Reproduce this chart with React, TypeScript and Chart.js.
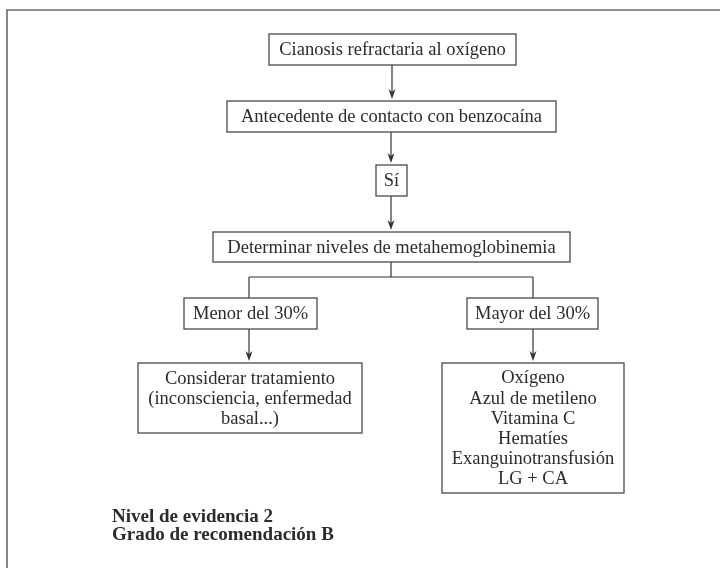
import React, { useEffect, useRef } from "react";
import { Chart, registerables } from "chart.js";

Chart.register(...registerables);

// ---- content ----
const nodeText: string[][] = [
  ["Cianosis refractaria al oxígeno"],
  ["Antecedente de contacto con benzocaína"],
  ["Sí"],
  ["Determinar niveles de metahemoglobinemia"],
  ["Menor del 30%"],
  ["Mayor del 30%"],
  ["Considerar tratamiento", "(inconsciencia, enfermedad", "basal...)"],
  ["Oxígeno", "Azul de metileno", "Vitamina C", "Hematíes", "Exanguinotransfusión", "LG + CA"],
];
const noteText: string[] = ["Nivel de evidencia 2", "Grado de recomendación B"];

// ---- layout (data units of the hidden scales) ----
const nodeLeft: number[] = [269, 227, 376, 213, 184, 467, 138, 442];
const nodeRight: number[] = [516, 556, 407, 570, 317, 598, 362, 624];
const nodeTop: number[] = [34, 101, 165, 232, 298, 298, 363, 363];
const nodeBottom: number[] = [65, 132, 196, 262, 329, 329, 433, 493];

// connectors: [x1, y1, x2, y2, arrow(1/0)]
const links: number[][] = [
  [392, 65, 392, 101, 1],
  [391, 132, 391, 165, 1],
  [391, 196, 391, 232, 1],
  [391, 262, 391, 277, 0],
  [249, 277, 533, 277, 0],
  [249, 277, 249, 298, 0],
  [533, 277, 533, 298, 0],
  [249, 329, 249, 363, 1],
  [533, 329, 533, 363, 1],
];
const frame: number[][] = [
  [7, 568],
  [7, 10],
  [720, 10],
];
const noteX = 112;
const noteY: number[] = [517, 535];

const flowPlugin = {
  id: "flow",
  afterDatasetsDraw(chart: any) {
    const ctx = chart.ctx as CanvasRenderingContext2D;
    const xs = chart.scales.x;
    const ys = chart.scales.y;
    const px = (v: number) => xs.getPixelForValue(v);
    const py = (v: number) => ys.getPixelForValue(v);
    ctx.save();

    // outer frame
    ctx.strokeStyle = "#6a6a6a";
    ctx.lineWidth = 1.6;
    ctx.beginPath();
    frame.forEach((p, i) => {
      if (i === 0) ctx.moveTo(px(p[0]), py(p[1]));
      else ctx.lineTo(px(p[0]), py(p[1]));
    });
    ctx.stroke();

    // connectors
    ctx.strokeStyle = "#333";
    ctx.fillStyle = "#333";
    ctx.lineWidth = 1.2;
    links.forEach((l) => {
      const x1 = px(l[0]), y1 = py(l[1]), x2 = px(l[2]), y2 = py(l[3]);
      ctx.beginPath();
      ctx.moveTo(x1, y1);
      ctx.lineTo(x2, l[4] ? y2 - 6 : y2);
      ctx.stroke();
      if (l[4]) {
        const tip = y2 - 2;
        ctx.beginPath();
        ctx.moveTo(x2, tip);
        ctx.lineTo(x2 - 3.5, tip - 10);
        ctx.lineTo(x2, tip - 7);
        ctx.lineTo(x2 + 3.5, tip - 10);
        ctx.closePath();
        ctx.fill();
      }
    });

    // boxes
    ctx.font = "18.5px 'Liberation Serif', serif";
    ctx.textAlign = "center";
    ctx.textBaseline = "middle";
    nodeText.forEach((lines, i) => {
      const l = px(nodeLeft[i]), r = px(nodeRight[i]);
      const t = py(nodeTop[i]), b = py(nodeBottom[i]);
      ctx.fillStyle = "#ffffff";
      ctx.fillRect(l, t, r - l, b - t);
      ctx.strokeStyle = "#4a4a4a";
      ctx.lineWidth = 1.3;
      ctx.strokeRect(l, t, r - l, b - t);
      ctx.fillStyle = "#2b2b2b";
      const cx = (l + r) / 2;
      const lh = 20.2;
      const cy = (t + b) / 2;
      const start = cy - ((lines.length - 1) * lh) / 2;
      lines.forEach((s, k) => ctx.fillText(s, cx, start + k * lh + 1));
    });

    // note
    ctx.font = "bold 19px 'Liberation Serif', serif";
    ctx.textAlign = "left";
    ctx.fillStyle = "#2b2b2b";
    noteText.forEach((s, k) => ctx.fillText(s, px(noteX), py(noteY[k])));

    ctx.restore();
  },
};

export default function App() {
  const ref = useRef<HTMLCanvasElement | null>(null);
  useEffect(() => {
    if (!ref.current) return;
    const centers = nodeText.map((_, i) => ({
      x: (nodeLeft[i] + nodeRight[i]) / 2,
      y: (nodeTop[i] + nodeBottom[i]) / 2,
    }));
    const chart = new Chart(ref.current, {
      type: "scatter",
      data: {
        datasets: [
          { data: centers, pointRadius: 0, pointHoverRadius: 0, showLine: false },
        ],
      },
      options: {
        animation: false,
        responsive: false,
        maintainAspectRatio: false,
        events: [],
        layout: { padding: 0 },
        plugins: { legend: { display: false }, tooltip: { enabled: false } },
        scales: {
          x: { type: "linear", min: 0, max: 720, display: false },
          y: { type: "linear", min: 0, max: 568, reverse: true, display: false },
        },
      },
      plugins: [flowPlugin],
    });
    return () => chart.destroy();
  }, []);
  return (
    <div style={{ position: "fixed", left: 0, top: 0, width: 720, height: 568, background: "#fff" }}>
      <canvas ref={ref} width={720} height={568} style={{ display: "block", width: 720, height: 568 }} />
    </div>
  );
}
